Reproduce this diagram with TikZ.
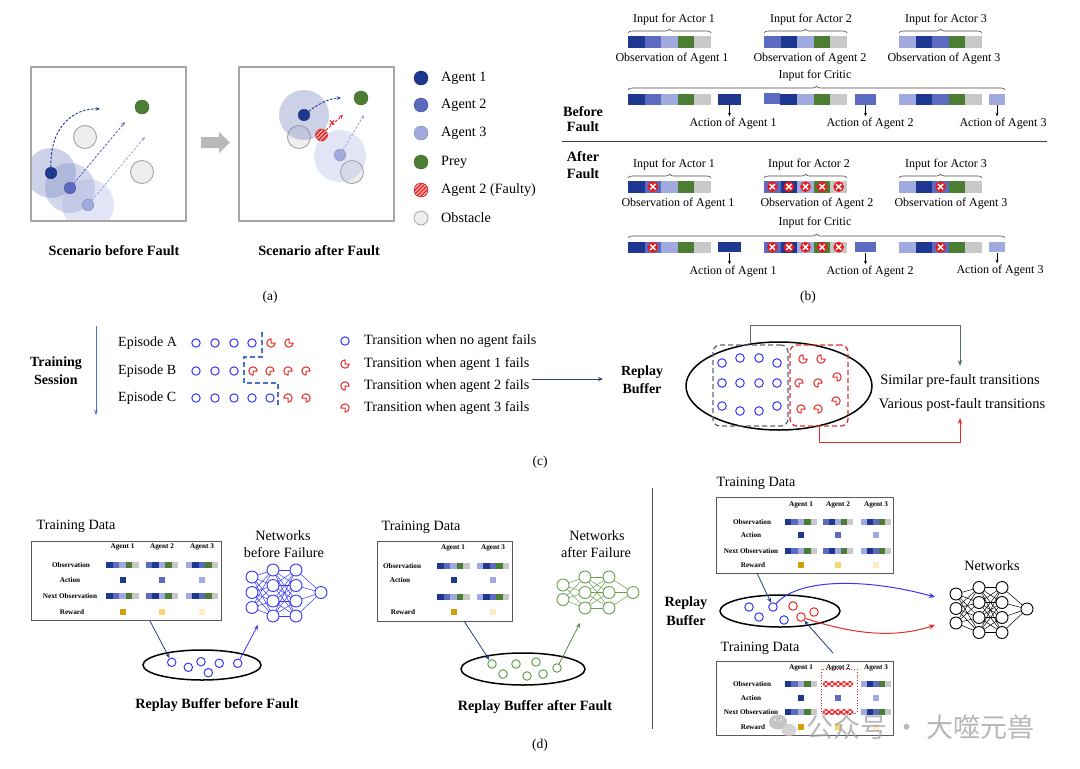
\documentclass[tikz,border=0pt]{standalone}
\usepackage{fontspec}
\setmainfont{Liberation Serif}
\newfontfamily\cjkfont{Noto Sans CJK SC}
\usetikzlibrary{arrows.meta,decorations.pathreplacing,calc,shapes.geometric}
\definecolor{dB}{RGB}{30,55,145}
\definecolor{mB}{RGB}{92,106,192}
\definecolor{lB}{RGB}{160,170,222}
\definecolor{gG}{RGB}{75,125,50}
\definecolor{gY}{RGB}{200,200,200}
\definecolor{obsF}{RGB}{238,238,238}
\definecolor{obsE}{RGB}{165,165,165}
\definecolor{tB}{RGB}{55,55,250}
\definecolor{tR}{RGB}{228,45,45}
\definecolor{xR}{RGB}{235,25,25}
\definecolor{au1}{RGB}{212,160,10}
\definecolor{au2}{RGB}{250,212,110}
\definecolor{au3}{RGB}{253,236,195}
\definecolor{nG}{RGB}{105,160,80}
\definecolor{arB}{RGB}{40,65,130}
\definecolor{slate}{RGB}{90,105,130}
\definecolor{sess}{RGB}{70,115,200}
\definecolor{shA}{RGB}{110,125,190}
\definecolor{frame}{RGB}{165,165,165}
\newcommand{\myfs}[1]{\fontsize{#1}{#1}\selectfont}
\newcommand{\cbar}[5]{\foreach \cc [count=\ii from 0] in {#5}{\fill[\cc] ({#1+\ii*#3},#2) rectangle ++(#3,#4);}}
\newcommand{\mbar}[4]{\cbar{#1}{{#2-2.8}}{#3}{5.6}{#4}}
\newcommand{\msq}[3]{\fill[#3] ({#1-3},{#2-3}) rectangle ++(6,6);}
\newcommand{\xmk}[3]{\fill[xR] (#1,#2) circle[radius=#3pt]; \draw[white,line width=0.28*#3pt] (#1,#2) ++(-0.5*#3,-0.5*#3) -- ++(#3,#3) ++(0,-#3) -- ++(-#3,#3);}
\newcommand{\hatchc}[3]{\begin{scope}\clip (#1,#2) circle[radius=#3pt];\fill[xR] (#1,#2) circle[radius=#3pt];\foreach \dd in {-12,-8,-4,0,4,8,12}{\draw[white!70!xR,line width=1.2pt] (#1,#2) ++(\dd-10,10) -- ++(20,-20);}\end{scope}\draw[xR!80!black,line width=0.4pt] (#1,#2) circle[radius=#3pt];}
\newcommand{\pac}[3]{\draw[tR,line width=1pt,line join=round] (#1,#2) -- ++(#3:4.2pt) arc[start angle=#3,end angle=#3+270,radius=4.2pt] -- cycle;}
\tikzset{
 agent/.style={circle,fill=#1,draw=#1!80!black,line width=0.4pt,minimum size=11.5pt,inner sep=0pt},
 obst/.style={circle,fill=obsF,draw=obsE,line width=0.9pt,minimum size=23pt,inner sep=0pt},
 legc/.style={circle,fill=#1,draw=#1!80!black,line width=0.4pt,minimum size=14pt,inner sep=0pt},
 t14/.style={inner sep=0pt,font=\myfs{14.2}},
 b14/.style={inner sep=0pt,font=\myfs{14.2}\bfseries},
 t12/.style={inner sep=0pt,font=\myfs{12}},
 tbl/.style={inner sep=0pt,font=\myfs{7.2}\bfseries},
 brc/.style={decorate,decoration={brace,amplitude=4pt},line width=0.6pt,black!70},
 dasharr/.style={dash pattern=on 2.5pt off 1.6pt,line width=0.9pt,-{Stealth[length=4pt,width=3.5pt]}},
 nnode/.style={circle,draw=#1,fill=white,minimum size=12pt,inner sep=0pt,line width=0.9pt},
 tcn/.style={circle,draw=#1,line width=1pt,minimum size=8.5pt,inner sep=0pt},
 tbox/.style={draw=black!65,line width=1pt,inner sep=0pt},
 sarr/.style={-{Stealth[length=5pt,width=4pt]},line width=0.8pt},
 actsq/.style={fill=#1,minimum height=11pt,inner sep=0pt},
 downarr/.style={-{Stealth[length=3.5pt,width=3pt]},line width=0.6pt,shorten >=2pt},
}
\begin{document}
\begin{tikzpicture}[x=1pt,y=-1pt]
\useasboundingbox[fill=white] (0,0) rectangle (1080,769);

% ================= (a) =================
\begin{scope}
\clip (31,67) rectangle (186,221);
\node[obst] (oL1) at (85,137) {};
\node[obst] (oL2) at (142,172) {};
\fill[shA,opacity=.35] (51,173) circle[radius=25pt];
\fill[shA,opacity=.3] (70,188) circle[radius=25pt];
\fill[lB,opacity=.3] (88,205) circle[radius=26pt];
\end{scope}
\draw[frame,line width=1.2pt] (31,67) rectangle (186,221);
\node[agent=dB] (a1L) at (51,173) {};
\node[agent=mB] (a2L) at (70,188) {};
\node[agent=lB] (a3L) at (88,205) {};
\node[agent=gG,minimum size=14pt] (pL) at (142,107) {};
\coordinate (a1Le) at (100,109);
\coordinate (a2Le) at (125,122);
\coordinate (a3Le) at (145,137);
\draw[dasharr,dB] (a1L) .. controls (50,125) and (75,108) .. (a1Le);
\draw[dasharr,mB] (a2L) -- (a2Le);
\draw[dasharr,lB] (a3L) -- (a3Le);

\fill[gray!55] (201,137) -- (219,137) -- (219,132) -- (230,142.5) -- (219,153) -- (219,148) -- (201,148) -- cycle;

\begin{scope}
\clip (239,67) rectangle (394,221);
\node[obst] (oR1) at (299,137) {};
\node[obst] (oR2) at (352,172) {};
\fill[shA,opacity=.35] (304,115) circle[radius=25pt];
\fill[lB,opacity=.3] (340,156) circle[radius=26pt];
\end{scope}
\draw[frame,line width=1.2pt] (239,67) rectangle (394,221);
\node[agent=dB] (a1R) at (304,115) {};
\node[agent=lB] (a3R) at (340,155) {};
\node[agent=gG,minimum size=14pt] (pR) at (361,98) {};
\hatchc{321.5}{135}{6}
\coordinate (a2R) at (321.5,135);
\coordinate (a1Re) at (341,98);
\coordinate (a2Rs) at (326,130);
\coordinate (a2Re) at (343,115);
\coordinate (a3Re) at (364,115);
\draw[dasharr,dB] (a1R) .. controls (318,104) and (330,98) .. (a1Re);
\draw[dasharr,xR] (a2Rs) -- (a2Re);
\draw[xR,line width=1pt] (332,122.5) ++(-2.2,-2.2) -- ++(4.4,4.4) ++(0,-4.4) -- ++(-4.4,4.4);
\draw[dasharr,lB] (a3R) -- (a3Re);

\foreach \c/\t/\y [count=\k] in {dB/Agent 1/78, mB/Agent 2/105, lB/Agent 3/133, gG/Prey/162}{
  \node[legc=\c] (lg\k) at (421,\y) {};
  \node[t14,anchor=west] (lt\k) at (441,\y) {\t};
}
\hatchc{421}{190}{7}
\coordinate (lg5) at (421,190);
\node[t14,anchor=west] (lt5) at (441,190) {Agent 2 (Faulty)};
\node[circle,fill=obsF,draw=obsE,line width=0.8pt,minimum size=14pt,inner sep=0pt] (lg6) at (421,218) {};
\node[t14,anchor=west] (lt6) at (441,218) {Obstacle};

\node[b14] (capL) at (114,251) {Scenario before Fault};
\node[b14] (capR) at (319,251) {Scenario after Fault};
\node[t14,font=\myfs{13.5}] (labA) at (270,297) {(a)};

% ================= (b) before =================
\node[b14] (bf1) at (583,112) {Before};
\node[b14] (bf2) at (583,127) {Fault};
\node[t12] (ia1) at (674,20) {Input for Actor 1};
\node[t12] (ia2) at (811,20) {Input for Actor 2};
\node[t12] (ia3) at (946,20) {Input for Actor 3};
\draw[brc] (628,33) -- (711,33);
\draw[brc] (764,33) -- (847,33);
\draw[brc] (899,33) -- (982,33);
\cbar{628}{36}{16.6}{12}{dB,mB,lB,gG,gY}
\cbar{764}{36}{16.6}{12}{mB,dB,lB,gG,gY}
\cbar{899}{36}{16.6}{12}{lB,dB,mB,gG,gY}
\node[t12] (ob1) at (672,59) {Observation of Agent 1};
\node[t12] (ob2) at (810,59) {Observation of Agent 2};
\node[t12] (ob3) at (944,59) {Observation of Agent 3};
\node[t12] (ic1) at (815,76) {Input for Critic};
\draw[brc] (628,90) -- (1005,90);
\cbar{628}{94}{16.6}{11}{dB,mB,lB,gG,gY}
\fill[mB] (764,93) rectangle ++(16,11);
\cbar{780}{94}{16.75}{11}{dB,lB,gG,gY}
\cbar{899}{94}{16.6}{11}{lB,dB,mB,gG,gY}
\node[actsq=dB,minimum width=23pt] (ac1) at (729.5,99.5) {};
\node[actsq=mB,minimum width=21pt] (ac2) at (865.5,99.5) {};
\node[actsq=lB,minimum width=16pt] (ac3) at (997,99.5) {};
\node[t12] (aa1) at (733,124) {Action of Agent 1};
\node[t12] (aa2) at (870,124) {Action of Agent 2};
\node[t12] (aa3) at (1003,124) {Action of Agent 3};
\draw[downarr] (ac1.south) -- (ac1.south |- aa1.north);
\draw[downarr] (ac2.south) -- (ac2.south |- aa2.north);
\draw[downarr] (ac3.south) -- (ac3.south |- aa3.north);

\draw[black!75,line width=1pt] (562,141) -- (1047,141);

% ================= (b) after =================
\node[b14] (af1) at (583,157) {After};
\node[b14] (af2) at (583,174) {Fault};
\node[t12] (ja1) at (674,165) {Input for Actor 1};
\node[t12] (ja2) at (809,165) {Input for Actor 2};
\node[t12] (ja3) at (946,165) {Input for Actor 3};
\draw[brc] (628,178) -- (711,178);
\draw[brc] (764,178) -- (847,178);
\draw[brc] (899,178) -- (982,178);
\cbar{628}{181}{16.6}{11.5}{dB,mB,lB,gG,gY}
\cbar{764}{181}{16.6}{11.5}{mB,dB,lB,gG,gY}
\cbar{899}{181}{16.6}{11.5}{lB,dB,mB,gG,gY}
\xmk{652.9}{186.7}{5.3}
\foreach \k in {0,...,4}{\xmk{772.3+16.6*\k}{186.7}{5.3}}
\xmk{940.5}{186.7}{5.3}
\node[t12] (pb1) at (678,204) {Observation of Agent 1};
\node[t12] (pb2) at (817,204) {Observation of Agent 2};
\node[t12] (pb3) at (951,204) {Observation of Agent 3};
\node[t12] (ic2) at (815,223) {Input for Critic};
\draw[brc] (628,238) -- (1005,238);
\cbar{628}{242}{16.6}{10.5}{dB,mB,lB,gG,gY}
\cbar{764}{242}{16.6}{10.5}{mB,dB,lB,gG,gY}
\cbar{899}{242}{16.6}{10.5}{lB,dB,mB,gG,gY}
\xmk{652.9}{247.2}{5.3}
\foreach \k in {0,...,4}{\xmk{772.3+16.6*\k}{247.2}{5.3}}
\xmk{940.5}{247.2}{5.3}
\node[actsq=dB,minimum width=23pt,minimum height=10.5pt] (bc1) at (729.5,247.2) {};
\node[actsq=mB,minimum width=21pt,minimum height=10.5pt] (bc2) at (865.5,247.2) {};
\node[actsq=lB,minimum width=16pt,minimum height=10.5pt] (bc3) at (997,247.2) {};
\node[t12] (ba1) at (733,272) {Action of Agent 1};
\node[t12] (ba2) at (870,272) {Action of Agent 2};
\node[t12] (ba3) at (1000,271) {Action of Agent 3};
\draw[downarr] (bc1.south) -- (bc1.south |- ba1.north);
\draw[downarr] (bc2.south) -- (bc2.south |- ba2.north);
\draw[downarr] (bc3.south) -- (bc3.south |- ba3.north);
\node[t14,font=\myfs{13.5}] (labB) at (808,297) {(b)};

% ================= (c) =================
\coordinate (ts0) at (96,326);
\coordinate (ts1) at (96,415);
\draw[sess,line width=0.8pt,-{Stealth[length=5pt,width=3.5pt]}] (ts0) -- (ts1);
\node[b14,font=\myfs{14}\bfseries] (tsA) at (56,363) {Training};
\node[b14,font=\myfs{14}\bfseries] (tsB) at (56,380) {Session};
\node[t14,font=\myfs{14},anchor=west] (epA) at (118,343) {Episode A};
\node[t14,font=\myfs{14},anchor=west] (epB) at (118,371) {Episode B};
\node[t14,font=\myfs{14},anchor=west] (epC) at (118,398) {Episode C};
\foreach \x in {196,215,234,252}{\draw[tB,line width=1pt] (\x,343) circle[radius=4.2pt];}
\pac{271}{343}{90} \pac{289}{343}{90}
\foreach \x in {196,215,234}{\draw[tB,line width=1pt] (\x,371) circle[radius=4.2pt];}
\foreach \x in {253,270,288,306}{\pac{\x}{371}{0}}
\foreach \x in {196,215,234,252,270}{\draw[tB,line width=1pt] (\x,398) circle[radius=4.2pt];}
\pac{288}{398}{270} \pac{306}{398}{270}
\draw[sess,line width=1.4pt,dash pattern=on 5pt off 3pt] (262,332) -- (262,357) -- (244,357) -- (244,383) -- (278,383) -- (278,405);
\draw[tB,line width=1pt] (345,341) circle[radius=4.2pt];
\pac{345}{364}{90} \pac{345}{386}{0} \pac{345}{408}{270}
\node[t14,anchor=west] (lc1) at (364,341) {Transition when no agent fails};
\node[t14,anchor=west] (lc2) at (364,364) {Transition when agent 1 fails};
\node[t14,anchor=west] (lc3) at (364,386) {Transition when agent 2 fails};
\node[t14,anchor=west] (lc4) at (364,408) {Transition when agent 3 fails};

\coordinate (rb0) at (532,379);
\coordinate (rb1) at (603,379);
\draw[arB,sarr] (rb0) -- (rb1);
\node[b14,font=\myfs{14}\bfseries] (rbt1) at (642,372) {Replay};
\node[b14,font=\myfs{14}\bfseries] (rbt2) at (642,389) {Buffer};
\node[ellipse,draw=black,line width=1.5pt,minimum width=186pt,minimum height=88pt,inner sep=0pt] (rbE) at (779,386) {};
\node[draw=slate,dash pattern=on 5pt off 3pt,rounded corners=7pt,minimum width=75pt,minimum height=81pt,line width=1.3pt,inner sep=0pt] (preBox) at (750.5,385.5) {};
\node[draw=tR,dash pattern=on 5pt off 3pt,rounded corners=7pt,minimum width=58pt,minimum height=81pt,line width=1.3pt,inner sep=0pt] (postBox) at (819,385.5) {};
\foreach \x/\y in {722/363,740/358,759/358,777/363,722/383,740/383,759/383,777/383,722/406,740/411,759/411,777/406}{\draw[tB,line width=1pt] (\x,\y) circle[radius=4.3pt];}
\pac{803}{359}{90} \pac{821}{359}{90} \pac{837}{377}{270}
\pac{799}{383}{0} \pac{818}{383}{0} \pac{836}{401}{270}
\pac{801}{409}{0} \pac{818}{409}{270}
\node[t14,font=\myfs{14.4}] (simT) at (960,381) {Similar pre-fault transitions};
\node[t14,font=\myfs{14.4}] (varT) at (962,405) {Various post-fault transitions};
\coordinate (simTop) at (960,366);
\coordinate (varBot) at (960,418);
\draw[slate,line width=0.9pt,-{Stealth[length=6pt,width=4.5pt]}] (preBox.north) -- ++(0,-19) -| (simTop);
\draw[tR,line width=0.9pt,-{Stealth[length=6pt,width=4.5pt]}] (postBox.south) -- ++(0,16) -| (varBot);
\node[t14,font=\myfs{13.5}] (labC) at (540,462) {(c)};

% ================= (d) left =================
\node[t14] (tdL) at (76,526) {Training Data};
\node[tbox,minimum width=190pt,minimum height=79pt] (tbL) at (126,580.5) {};
\node[tbl] at (122.5,547) {Agent 1};
\node[tbl] at (162,547) {Agent 2};
\node[tbl] at (202,547) {Agent 3};
\node[tbl] at (71,565) {Observation};
\node[tbl] at (70,580) {Action};
\node[tbl] at (70,596) {Next Observation};
\node[tbl] at (72,612) {Reward};
\mbar{106}{565}{6.6}{dB,mB,lB,gG,gY} \mbar{146}{565}{6.4}{mB,dB,lB,gG,gY} \mbar{186}{565}{6.4}{lB,dB,mB,gG,gY}
\mbar{106}{596}{6.6}{dB,mB,lB,gG,gY} \mbar{146}{596}{6.4}{mB,dB,lB,gG,gY} \mbar{186}{596}{6.4}{lB,dB,mB,gG,gY}
\msq{122.5}{580}{dB} \msq{162}{580}{mB} \msq{202}{580}{lB}
\msq{122.5}{612}{au1} \msq{162}{612}{au2} \msq{202}{612}{au3}

\node[t14] (nwL1) at (283,536) {Networks};
\node[t14] (nwL2) at (284,553) {before Failure};
\foreach \y [count=\i] in {577,592.5,607.5}{\node[nnode=tB] (bn1-\i) at (252,\y) {};}
\foreach \y [count=\i] in {570,585.5,601,616}{\node[nnode=tB] (bn2-\i) at (273,\y) {};}
\foreach \y [count=\i] in {570,585.5,601,616}{\node[nnode=tB] (bn3-\i) at (296,\y) {};}
\node[nnode=tB] (bn4-1) at (321,592.5) {};
\foreach \i in {1,2,3}{\foreach \j in {1,...,4}{\draw[tB,line width=0.5pt] (bn1-\i) -- (bn2-\j);}}
\foreach \i in {1,...,4}{\foreach \j in {1,...,4}{\draw[tB,line width=0.5pt] (bn2-\i) -- (bn3-\j);}}
\foreach \i in {1,...,4}{\draw[tB,line width=0.5pt] (bn3-\i) -- (bn4-1);}

\node[ellipse,draw=black,line width=1.5pt,minimum width=118pt,minimum height=30pt,inner sep=0pt] (ebL) at (202,665) {};
\foreach \x/\y [count=\k] in {171.7/662.3,188.3/667.3,201/661.7,208.3/672.7,219.3/663.3,237.7/663.3}{\node[tcn=tB] (cL\k) at (\x,\y) {};}
\coordinate (tbLo) at (150,621);
\coordinate (nLin) at (258,625);
\draw[arB,sarr] (tbLo) -- (cL1);
\draw[tB,sarr] (cL6) -- (nLin);
\node[b14] (rbL) at (217,705) {Replay Buffer before Fault};

% ================= (d) middle =================
\node[t14] (tdM) at (421,527) {Training Data};
\node[tbox,minimum width=135pt,minimum height=80pt] (tbM) at (444.5,581) {};
\node[tbl] at (453,548) {Agent 1};
\node[tbl] at (493,548) {Agent 3};
\node[tbl] at (402,566) {Observation};
\node[tbl] at (400,580) {Action};
\node[tbl] at (403,612) {Reward};
\mbar{437}{566}{6.6}{dB,mB,lB,gG,gY} \mbar{477}{566}{6.4}{lB,dB,mB,gG,gY}
\mbar{437}{597}{6.6}{dB,mB,lB,gG,gY} \mbar{477}{597}{6.4}{lB,dB,mB,gG,gY}
\msq{454}{580}{dB} \msq{493}{580}{lB}
\msq{454}{612}{au1} \msq{493}{612}{au3}

\node[t14] (nwM1) at (597,536) {Networks};
\node[t14] (nwM2) at (596,553) {after Failure};
\foreach \y [count=\i] in {585,599.5}{\node[nnode=nG] (gn1-\i) at (563,\y) {};}
\foreach \y [count=\i] in {577,592.5,608}{\node[nnode=nG] (gn2-\i) at (585,\y) {};}
\foreach \y [count=\i] in {577,592.5,608}{\node[nnode=nG] (gn3-\i) at (609,\y) {};}
\node[nnode=nG] (gn4-1) at (633,592.5) {};
\foreach \i in {1,2}{\foreach \j in {1,2,3}{\draw[nG,line width=0.5pt] (gn1-\i) -- (gn2-\j);}}
\foreach \i in {1,2,3}{\foreach \j in {1,2,3}{\draw[nG,line width=0.5pt] (gn2-\i) -- (gn3-\j);}}
\foreach \i in {1,2,3}{\draw[nG,line width=0.5pt] (gn3-\i) -- (gn4-1);}

\node[ellipse,draw=black,line width=1.5pt,minimum width=124pt,minimum height=32pt,inner sep=0pt] (ebM) at (523,669) {};
\foreach \x/\y [count=\k] in {492/664,503/674,516/664,527/676,536/662,543/674,557/668}{\node[tcn=nG] (cM\k) at (\x,\y) {};}
\coordinate (tbMo) at (464,621);
\coordinate (nMin) at (580,623);
\draw[arB,sarr] (tbMo) -- (cM1);
\draw[nG!85!black,sarr] (cM7) -- (nMin);
\node[b14] (rbM) at (535,707) {Replay Buffer after Fault};

\draw[black!70,line width=1pt] (652,488) -- (652,729);

% ================= (d) right =================
\node[t14] (tdR1) at (756,483) {Training Data};
\node[tbox,minimum width=177pt,minimum height=76pt] (tbR1) at (804.5,535) {};
\node[tbl] at (801,505) {Agent 1};
\node[tbl] at (838,505) {Agent 2};
\node[tbl] at (876,505) {Agent 3};
\node[tbl] at (752,522) {Observation};
\node[tbl] at (751,535) {Action};
\node[tbl] at (751,551) {Next Observation};
\node[tbl] at (753,565) {Reward};
\mbar{785}{522}{6.4}{dB,mB,lB,gG,gY} \mbar{823}{522}{6}{mB,dB,lB,gG,gY} \mbar{861}{522}{6}{lB,dB,mB,gG,gY}
\mbar{785}{551}{6.4}{dB,mB,lB,gG,gY} \mbar{823}{551}{6}{mB,dB,lB,gG,gY} \mbar{861}{551}{6}{lB,dB,mB,gG,gY}
\msq{801}{535}{dB} \msq{838}{535}{mB} \msq{876}{535}{lB}
\msq{801}{565}{au1} \msq{838}{565}{au2} \msq{876}{565}{au3}

\node[b14] (rbR1) at (686,603) {Replay};
\node[b14] (rbR2) at (686,621) {Buffer};
\node[ellipse,draw=black,line width=1.5pt,minimum width=120pt,minimum height=32pt,inner sep=0pt] (ebR) at (780,611) {};
\foreach \x/\y [count=\k] in {749/607,773/607,759/617,784/620}{\node[tcn=tB] (rB\k) at (\x,\y) {};}
\foreach \x/\y [count=\k] in {793/606,814/612,801/617}{\node[tcn=tR] (rR\k) at (\x,\y) {};}
\coordinate (tbR1o) at (757,573);
\draw[arB,sarr] (tbR1o) -- (rB2);

\node[t14] (nwR) at (992,566) {Networks};
\foreach \y [count=\i] in {594,608.5,623}{\node[nnode=black] (kn1-\i) at (956,\y) {};}
\foreach \y [count=\i] in {587.5,602.5,617.5,632.5}{\node[nnode=black] (kn2-\i) at (979,\y) {};}
\foreach \y [count=\i] in {587.5,602.5,617.5,632.5}{\node[nnode=black] (kn3-\i) at (1002,\y) {};}
\node[nnode=black] (kn4-1) at (1027,609) {};
\foreach \i in {1,2,3}{\foreach \j in {1,...,4}{\draw[black,line width=0.5pt] (kn1-\i) -- (kn2-\j);}}
\foreach \i in {1,...,4}{\foreach \j in {1,...,4}{\draw[black,line width=0.5pt] (kn2-\i) -- (kn3-\j);}}
\foreach \i in {1,...,4}{\draw[black,line width=0.5pt] (kn3-\i) -- (kn4-1);}
\coordinate (nRb) at (935,597);
\coordinate (nRr) at (935,625);
\draw[tB,line width=1pt,-{Stealth[length=6pt,width=5pt]}] (rB2) .. controls (800,577) and (870,579) .. (nRb);
\draw[tR,line width=1pt,-{Stealth[length=6pt,width=5pt]}] (rR3) .. controls (835,628) and (885,642) .. (nRr);

\node[t14] (tdR2) at (760,648) {Training Data};
\node[tbox,minimum width=177pt,minimum height=74pt] (tbR2) at (804.5,698) {};
\coordinate (tbR2i) at (833,653);
\draw[arB,sarr] (tbR2i) -- (rR3);
\node[tbl] at (801,668) {Agent 1};
\node[tbl] at (838,668) {Agent 2};
\node[tbl] at (876,668) {Agent 3};
\node[tbl] at (752,684) {Observation};
\node[tbl] at (751,698) {Action};
\node[tbl] at (751,712) {Next Observation};
\node[tbl] at (753,727) {Reward};
\mbar{785}{684}{6.4}{dB,mB,lB,gG,gY} \mbar{861}{684}{6}{lB,dB,mB,gG,gY}
\mbar{785}{712}{6.4}{dB,mB,lB,gG,gY} \mbar{861}{712}{6}{lB,dB,mB,gG,gY}
\foreach \xx in {826,832,838,844,850}{\xmk{\xx}{684}{3} \xmk{\xx}{712}{3}}
\draw[xR,dotted,line width=0.8pt] (821,669) rectangle (857,713);
\msq{801}{698}{dB} \msq{838}{698}{mB} \msq{876}{698}{lB}
\msq{801}{727}{au1} \msq{838}{727}{au2} \msq{876}{727}{au3}

\node[t14,font=\myfs{13.5}] (labD) at (540,745) {(d)};

% watermark
\begin{scope}[opacity=0.75]
\fill[gray!60] (778,722) ellipse[x radius=9pt,y radius=7.5pt];
\fill[gray!45] (789,730) ellipse[x radius=7.5pt,y radius=6.2pt];
\fill[white] (775,720) circle[radius=1.1pt] (781,720) circle[radius=1.1pt];
\node[inner sep=0pt,anchor=west,font=\cjkfont\myfs{27},text=gray!75] (wm) at (806,727) {公众号 · 大噬元兽};
\end{scope}
\end{tikzpicture}
\end{document}
